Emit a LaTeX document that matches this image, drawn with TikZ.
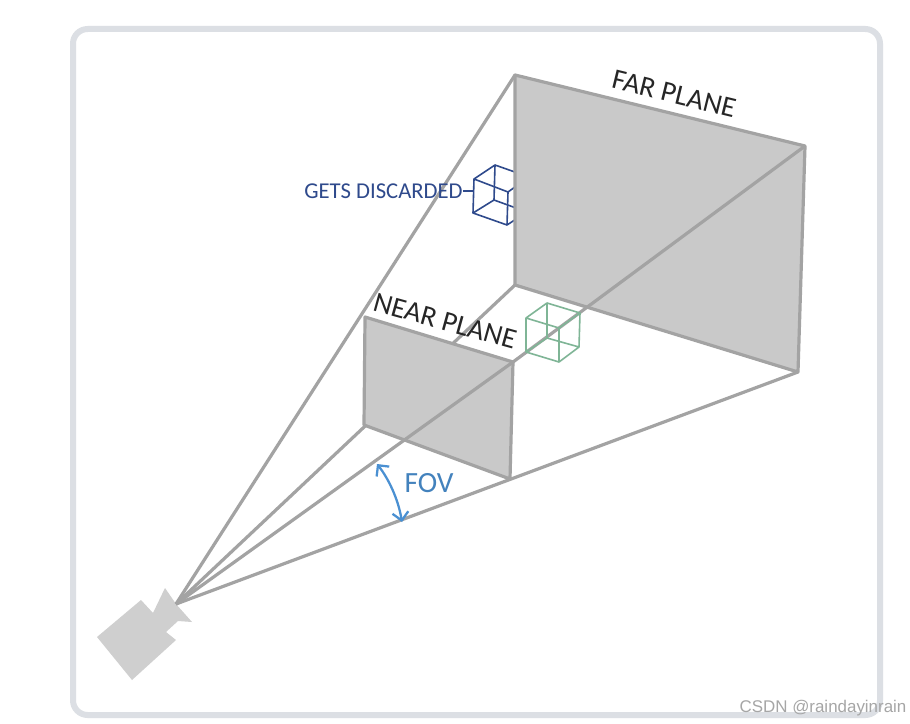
\documentclass[tikz,border=0pt]{standalone}
\usepackage{fontspec}
\setmainfont{Carlito}
\newfontfamily\wmfont{Liberation Sans}
\usetikzlibrary{arrows.meta}
\definecolor{framec}{HTML}{DCDFE4}
\definecolor{edgec}{HTML}{A3A3A3}
\definecolor{planec}{HTML}{C9C9C9}
\definecolor{camc}{HTML}{CFCFCF}
\definecolor{bluec}{HTML}{2F4A8C}
\definecolor{greenc}{HTML}{7FB596}
\definecolor{fovc}{HTML}{4A90D2}
\tikzset{
  edge/.style={draw=edgec,line width=2.4pt},
  plane/.style={edge,fill=planec,line join=round},
  cubeb/.style={draw=bluec,line width=1.2pt,line join=round},
  cubeg/.style={draw=greenc,line width=1.2pt,line join=round},
  lab/.style={inner sep=0pt,font=\fontsize{21.5}{24}\selectfont,text=black!85},
}
\begin{document}
\begin{tikzpicture}[x=0.75pt,y=-0.75pt]
\useasboundingbox (0,0) rectangle (910,724);
\fill[white] (0,0) rectangle (910,724);
\draw[framec,line width=4.5pt,rounded corners=11pt] (73,29) rectangle (880,715);
% corners
\coordinate (apex) at (176,604);
\coordinate (ftl) at (515,75);
\coordinate (ftr) at (805,146);
\coordinate (fbr) at (798,372);
\coordinate (fbl) at (515,285);
\coordinate (ntl) at (365,317);
\coordinate (ntr) at (513,362);
\coordinate (nbr) at (510,479);
\coordinate (nbl) at (364,425);
% camera
\fill[camc] (97,637) -- (141,600) -- (153,613) -- (165,588) -- (176,604) -- (192,622) -- (178,621) -- (166,632) -- (176,640) -- (132,680) -- cycle;
% discarded cube, partly behind the far plane
\coordinate (b1) at (474,179); \coordinate (b2) at (495,165);
\coordinate (b3) at (529,177); \coordinate (b4) at (508,192);
\coordinate (b5) at (473,213); \coordinate (b6) at (494,200);
\coordinate (b7) at (527,212); \coordinate (b8) at (507,225);
\draw[cubeb] (b1) -- (b2) -- (b3) -- (b4) -- cycle;
\draw[cubeb] (b5) -- (b6) -- (b7) -- (b8) -- cycle;
\draw[cubeb] (b1) -- (b5) (b2) -- (b6) (b3) -- (b7) (b4) -- (b8);
% far plane
\draw[plane] (ftl) -- (ftr) -- (fbr) -- (fbl) -- cycle;
% frustum edges behind the near plane
\draw[edge] (apex) -- (ftl);
\draw[edge] (apex) -- (fbl);
\draw[edge] (apex) -- (fbr);
% near plane
\draw[plane] (ntl) -- (ntr) -- (nbr) -- (nbl) -- cycle;
% frustum edge in front of it
\draw[edge,line join=round] (apex) -- (ntr) -- (ftr);
% kept cube
\coordinate (g1) at (526,318); \coordinate (g2) at (547,303);
\coordinate (g3) at (580,313); \coordinate (g4) at (559,328);
\coordinate (g5) at (526,352); \coordinate (g6) at (547,338);
\coordinate (g7) at (579,347); \coordinate (g8) at (559,362);
\draw[cubeg] (g1) -- (g2) -- (g3) -- (g4) -- cycle;
\draw[cubeg] (g5) -- (g6) -- (g7) -- (g8) -- cycle;
\draw[cubeg] (g1) -- (g5) (g2) -- (g6) (g3) -- (g7) (g4) -- (g8);
% labels
\node[lab,rotate=-13.7] (far) at (674,94) {FAR PLANE};
\node[lab,rotate=-15.5] (near) at (445,321) {NEAR PLANE};
\node[inner sep=0pt,text=bluec,font=\fontsize{17}{20}\selectfont] (disc) at (383.5,191) {GETS DISCARDED};
\coordinate (cubeleft) at (474,191);
\draw[bluec,line width=1.5pt] (disc.east) -- (cubeleft);
% FOV
\coordinate (fova) at (377,464);
\coordinate (fovb) at (402,522);
\draw[fovc,line width=1.7pt,{Straight Barb[length=6pt,width=12pt]}-{Straight Barb[length=6pt,width=12pt]}] (fova) .. controls (388,478) and (398,498) .. (fovb);
\node[inner sep=0pt,text=fovc!90!black,font=\fontsize{22}{25}\selectfont] (fov) at (429,483) {FOV};
% watermark
\node[inner sep=0pt,text=black!35,font=\wmfont\fontsize{12.7}{15}\selectfont] (wm) at (823,708) {CSDN @raindayinrain};
\end{tikzpicture}
\end{document}
